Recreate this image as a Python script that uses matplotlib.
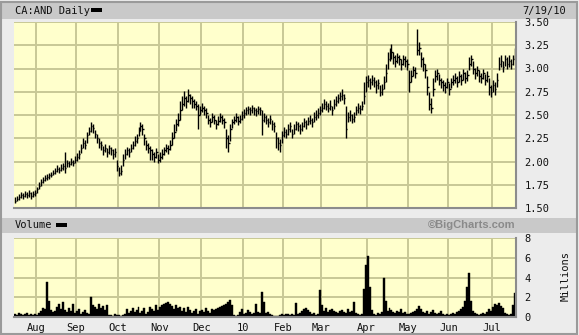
import numpy as np
import pandas as pd
import matplotlib
matplotlib.use("Agg")
import matplotlib.pyplot as plt
from matplotlib.patches import Rectangle

# daily bars, CA:AND, 2009-07-17 .. 2010-07-19 (TSX trading days)
close = [
    1.58, 1.60, 1.62, 1.64, 1.63, 1.65, 1.64, 1.66, 1.63, 1.65,
    1.66, 1.70, 1.74, 1.78, 1.80, 1.82, 1.83, 1.85, 1.86, 1.88,
    1.90, 1.92, 1.91, 1.93, 1.95, 1.93, 1.98, 1.97, 2.00, 1.98,
    2.02, 2.05, 2.08, 2.15, 2.20, 2.18, 2.28, 2.33, 2.38, 2.36,
    2.30, 2.25, 2.20, 2.18, 2.12, 2.15, 2.10, 2.14, 2.12, 2.08,
    2.10, 1.95, 1.88, 1.90, 2.02, 2.08, 2.12, 2.10, 2.15, 2.18,
    2.22, 2.25, 2.33, 2.38, 2.35, 2.25, 2.18, 2.15, 2.12, 2.08,
    2.05, 2.10, 2.02, 2.05, 2.08, 2.12, 2.15, 2.13, 2.18, 2.25,
    2.32, 2.40, 2.45, 2.55, 2.62, 2.68, 2.65, 2.72, 2.68, 2.65,
    2.62, 2.60, 2.50, 2.55, 2.58, 2.55, 2.52, 2.45, 2.42, 2.48,
    2.45, 2.40, 2.44, 2.48, 2.45, 2.42, 2.25, 2.20, 2.35, 2.42,
    2.45, 2.48, 2.44, 2.46, 2.50, 2.52, 2.55, 2.56, 2.55, 2.57,
    2.55, 2.54, 2.56, 2.55, 2.45, 2.48, 2.45, 2.42, 2.46, 2.40,
    2.38, 2.25, 2.20, 2.18, 2.28, 2.32, 2.30, 2.35, 2.38, 2.30,
    2.35, 2.40, 2.38, 2.35, 2.38, 2.42, 2.40, 2.44, 2.45, 2.42,
    2.48, 2.50, 2.52, 2.55, 2.58, 2.62, 2.60, 2.58, 2.60, 2.55,
    2.62, 2.65, 2.68, 2.70, 2.72, 2.68, 2.35, 2.48, 2.50, 2.46,
    2.48, 2.55, 2.58, 2.56, 2.60, 2.70, 2.85, 2.88, 2.85, 2.88,
    2.86, 2.82, 2.84, 2.75, 2.78, 2.85, 2.95, 3.10, 3.15, 3.18,
    3.12, 3.08, 3.12, 3.10, 3.05, 3.10, 3.08, 3.05, 2.85, 2.92,
    2.98, 2.95, 3.20, 3.22, 3.10, 3.05, 2.98, 2.80, 2.62, 2.58,
    2.78, 2.92, 2.95, 2.88, 2.85, 2.82, 2.80, 2.85, 2.78, 2.85,
    2.88, 2.90, 2.86, 2.92, 2.88, 2.95, 2.90, 2.93, 3.05, 3.10,
    3.00, 2.95, 2.98, 2.92, 2.90, 2.95, 2.88, 2.92, 2.80, 2.75,
    2.82, 2.78, 2.88, 3.05, 3.08, 3.02, 3.10, 3.05, 3.08, 3.05,
    3.10, 3.18,
]
high = [
    1.62, 1.63, 1.65, 1.67, 1.66, 1.68, 1.67, 1.69, 1.67, 1.68,
    1.69, 1.73, 1.78, 1.81, 1.83, 1.85, 1.87, 1.88, 1.89, 1.91,
    1.93, 1.96, 1.94, 1.97, 1.98, 2.10, 2.02, 2.01, 2.04, 2.02,
    2.06, 2.09, 2.12, 2.19, 2.25, 2.23, 2.32, 2.37, 2.42, 2.40,
    2.34, 2.30, 2.25, 2.22, 2.17, 2.19, 2.15, 2.18, 2.16, 2.13,
    2.14, 2.02, 1.94, 1.96, 2.08, 2.13, 2.16, 2.15, 2.19, 2.22,
    2.27, 2.30, 2.37, 2.42, 2.40, 2.30, 2.23, 2.20, 2.17, 2.13,
    2.10, 2.14, 2.08, 2.10, 2.13, 2.16, 2.19, 2.18, 2.23, 2.32,
    2.40, 2.46, 2.52, 2.65, 2.70, 2.76, 2.70, 2.78, 2.73, 2.70,
    2.67, 2.65, 2.62, 2.60, 2.63, 2.60, 2.57, 2.50, 2.47, 2.52,
    2.50, 2.45, 2.49, 2.52, 2.50, 2.47, 2.35, 2.28, 2.40, 2.46,
    2.49, 2.52, 2.49, 2.50, 2.54, 2.56, 2.59, 2.60, 2.59, 2.61,
    2.59, 2.58, 2.60, 2.59, 2.55, 2.52, 2.50, 2.47, 2.50, 2.45,
    2.42, 2.32, 2.26, 2.24, 2.33, 2.37, 2.35, 2.40, 2.42, 2.35,
    2.40, 2.44, 2.43, 2.40, 2.42, 2.47, 2.45, 2.48, 2.50, 2.47,
    2.53, 2.55, 2.57, 2.60, 2.63, 2.67, 2.65, 2.63, 2.66, 2.60,
    2.67, 2.70, 2.73, 2.75, 2.78, 2.73, 2.60, 2.53, 2.55, 2.51,
    2.53, 2.60, 2.63, 2.61, 2.65, 2.85, 2.92, 2.93, 2.90, 2.93,
    2.91, 2.88, 2.89, 2.82, 2.83, 2.92, 3.05, 3.18, 3.22, 3.26,
    3.18, 3.14, 3.17, 3.15, 3.10, 3.15, 3.13, 3.10, 2.98, 2.98,
    3.03, 3.02, 3.42, 3.28, 3.18, 3.12, 3.05, 2.92, 2.75, 2.68,
    2.90, 2.98, 3.00, 2.94, 2.90, 2.88, 2.85, 2.90, 2.84, 2.90,
    2.93, 2.95, 2.92, 2.97, 2.94, 3.00, 2.96, 2.98, 3.12, 3.15,
    3.08, 3.01, 3.03, 2.98, 2.95, 3.00, 2.94, 2.97, 2.90, 2.82,
    2.88, 2.85, 2.95, 3.12, 3.14, 3.08, 3.15, 3.12, 3.14, 3.10,
    3.15, 3.22,
]
low = [
    1.55, 1.57, 1.59, 1.61, 1.60, 1.62, 1.61, 1.62, 1.60, 1.62,
    1.63, 1.66, 1.70, 1.74, 1.77, 1.79, 1.80, 1.81, 1.83, 1.85,
    1.87, 1.89, 1.88, 1.90, 1.91, 1.88, 1.94, 1.94, 1.96, 1.95,
    1.98, 2.01, 2.03, 2.09, 2.14, 2.13, 2.20, 2.28, 2.32, 2.31,
    2.25, 2.20, 2.14, 2.12, 2.07, 2.10, 2.05, 2.08, 2.07, 2.03,
    2.05, 1.90, 1.84, 1.86, 1.95, 2.03, 2.07, 2.05, 2.10, 2.13,
    2.17, 2.20, 2.27, 2.33, 2.28, 2.18, 2.12, 2.09, 2.02, 2.02,
    2.00, 2.04, 1.98, 2.00, 2.03, 2.07, 2.10, 2.08, 2.12, 2.18,
    2.25, 2.33, 2.38, 2.45, 2.55, 2.60, 2.58, 2.64, 2.62, 2.58,
    2.57, 2.55, 2.35, 2.50, 2.53, 2.50, 2.47, 2.40, 2.37, 2.42,
    2.40, 2.35, 2.39, 2.43, 2.40, 2.36, 2.15, 2.10, 2.22, 2.36,
    2.40, 2.43, 2.39, 2.41, 2.45, 2.47, 2.50, 2.51, 2.50, 2.52,
    2.50, 2.49, 2.51, 2.50, 2.28, 2.42, 2.40, 2.37, 2.40, 2.34,
    2.32, 2.15, 2.12, 2.10, 2.20, 2.26, 2.25, 2.29, 2.32, 2.25,
    2.30, 2.34, 2.33, 2.30, 2.33, 2.37, 2.35, 2.39, 2.40, 2.37,
    2.43, 2.45, 2.47, 2.50, 2.53, 2.56, 2.55, 2.53, 2.55, 2.50,
    2.56, 2.60, 2.63, 2.65, 2.66, 2.62, 2.25, 2.42, 2.44, 2.41,
    2.43, 2.50, 2.52, 2.51, 2.55, 2.62, 2.75, 2.80, 2.78, 2.82,
    2.80, 2.74, 2.78, 2.70, 2.72, 2.78, 2.85, 3.00, 3.08, 3.10,
    3.05, 3.02, 3.06, 3.04, 2.98, 3.04, 3.02, 2.98, 2.75, 2.86,
    2.92, 2.90, 3.15, 3.15, 3.02, 2.97, 2.90, 2.72, 2.55, 2.52,
    2.70, 2.85, 2.88, 2.82, 2.79, 2.76, 2.74, 2.79, 2.72, 2.79,
    2.82, 2.84, 2.80, 2.86, 2.82, 2.88, 2.84, 2.87, 2.98, 3.03,
    2.94, 2.89, 2.92, 2.86, 2.84, 2.89, 2.82, 2.86, 2.72, 2.69,
    2.75, 2.72, 2.80, 2.98, 3.02, 2.96, 3.03, 3.00, 3.02, 3.00,
    3.04, 3.10,
]
# volume in millions of shares
volume = [
    0.3, 0.2, 0.4, 0.3, 0.2, 0.3, 0.4, 0.2, 0.3, 0.2,
    0.3, 0.2, 0.4, 0.6, 0.9, 0.8, 3.5, 1.6, 0.7, 0.5,
    0.6, 1.0, 1.3, 0.8, 1.5, 0.7, 0.5, 0.9, 0.6, 1.3,
    0.4, 0.6, 0.8, 0.3, 0.5, 0.7, 0.4, 0.3, 2.0, 1.2,
    1.0, 0.8, 1.3, 0.9, 1.1, 0.7, 1.2, 0.2, 0.2, 0.1,
    0.3, 0.2, 0.2, 0.1, 0.2, 0.3, 0.8, 0.4, 0.6, 0.9,
    0.5, 0.7, 1.0, 0.4, 0.6, 0.9, 0.3, 0.5, 1.0, 0.8,
    0.6, 1.2, 0.7, 1.0, 1.2, 1.3, 1.4, 1.5, 1.3, 1.1,
    0.8, 1.2, 0.9, 1.0, 0.6, 0.9, 0.5, 1.0, 0.7, 0.4,
    0.6, 0.8, 0.3, 0.6, 0.7, 0.5, 0.9, 0.6, 0.4, 0.8,
    0.7, 0.8, 0.9, 1.0, 1.1, 1.2, 1.3, 1.5, 1.7, 1.2,
    0.2, 0.1, 0.2, 0.5, 0.8, 0.3, 0.4, 0.7, 0.5, 0.3,
    0.4, 1.3, 0.5, 0.4, 2.5, 1.5, 0.4, 0.5, 0.3, 0.2,
    0.1, 0.1, 0.1, 0.2, 0.3, 0.2, 0.3, 0.3, 0.2, 0.3,
    0.2, 1.4, 0.3, 0.4, 0.6, 0.8, 0.9, 0.7, 0.5, 0.3,
    0.4, 0.2, 0.3, 2.7, 1.2, 0.6, 0.9, 0.5, 0.7, 0.8,
    0.6, 0.5, 0.4, 0.6, 0.7, 0.5, 0.4, 0.8, 0.5, 0.6,
    1.5, 0.4, 0.3, 0.2, 0.3, 2.8, 5.3, 6.2, 3.0, 0.7,
    0.3, 0.2, 0.4, 0.3, 0.5, 3.9, 1.6, 0.6, 0.9, 0.7,
    0.5, 0.4, 0.6, 0.5, 0.8, 0.4, 0.5, 0.3, 0.3, 0.4,
    0.5, 0.6, 0.8, 1.1, 0.8, 0.5, 0.4, 0.6, 0.3, 0.5,
    0.7, 0.4, 0.3, 0.4, 0.6, 0.3, 0.2, 0.3, 0.2, 0.3,
    0.4, 0.3, 0.5, 0.6, 0.8, 1.0, 1.6, 3.0, 4.5, 1.6,
    0.6, 0.4, 0.3, 0.2, 0.3, 0.4, 0.3, 0.5, 0.8, 0.6,
    1.0, 1.3, 1.2, 1.4, 1.1, 0.9, 0.4, 0.3, 0.2, 0.3,
    1.2, 2.4,
]

holidays = ["2009-08-03", "2009-09-07", "2009-10-12", "2009-12-25", "2009-12-28",
            "2010-01-01", "2010-02-15", "2010-04-02", "2010-05-24", "2010-07-01"]
price_ticks = [1.50, 1.75, 2.00, 2.25, 2.50, 2.75, 3.00, 3.25, 3.50]
vol_ticks = [0, 2, 4, 6, 8]

dates = pd.bdate_range("2009-07-17", "2010-07-19")
dates = dates[~dates.isin(pd.to_datetime(holidays))]
n = len(close)
x = np.arange(n)

# first trading day of each month -> grid lines + labels
month_pos, month_lab = [], []
for i in range(1, len(dates)):
    if dates[i].month != dates[i - 1].month:
        month_pos.append(i - 0.5)
        month_lab.append("10" if dates[i].month == 1 else dates[i].strftime("%b"))

W, H = 579, 335
fig = plt.figure(figsize=(W / 100, H / 100), dpi=100, facecolor="#ececec")
mono = "DejaVu Sans Mono"


def box(x0, y0, x1, y1):
    # pixel box (top-left origin) -> figure fraction rect
    return [x0 / W, 1 - y1 / H, (x1 - x0) / W, (y1 - y0) / H]


def band(x0, y0, x1, y1, color):
    l, b, w, h = box(x0, y0, x1, y1)
    fig.add_artist(Rectangle((l, b), w, h, transform=fig.transFigure,
                             facecolor=color, edgecolor="none", zorder=0))


# outer frame and header bands
band(2, 3, 577, 19, "#c9c9c9")
band(2, 218, 577, 233, "#c9c9c9")
fig.add_artist(Rectangle((0.5 / W, 1.5 / H), (W - 2.5) / W, (H - 3) / H, transform=fig.transFigure,
                         facecolor="none", edgecolor="#9a9a9a", lw=1.5, zorder=0))

fig.text(15 / W, 1 - 11 / H, "CA:AND Daily", family=mono, fontsize=7.5, va="center", color="#111111")
band(91, 8, 102, 12, "black")
fig.text(566 / W, 1 - 11 / H, "7/19/10", family=mono, fontsize=7.5, va="center", ha="right", color="#111111")
fig.text(15 / W, 1 - 225.5 / H, "Volume", family=mono, fontsize=7.5, va="center", color="#111111")
band(56, 223, 67, 227, "black")
fig.text(516 / W, 1 - 225.5 / H, "\u00a9BigCharts.com", family="Liberation Sans", fontweight="bold",
         fontsize=8, va="center", ha="right", color="#8a8a8a")
fig.text(566 / W, 1 - 276 / H, "Millions", family=mono, fontsize=7.5, va="center", ha="center",
         rotation=90, color="#111111")

grid_c = "#c8c896"
ax = fig.add_axes(box(14, 22, 516, 208), facecolor="#ffffcc")
av = fig.add_axes(box(14, 238, 516, 317), facecolor="#ffffcc")

for a in (ax, av):
    a.set_xlim(-0.5, n - 0.5)
    a.set_xticks(month_pos)
    a.grid(True, color=grid_c, lw=1.4)
    a.set_axisbelow(True)
    a.spines["left"].set_visible(False)
    a.spines["top"].set_visible(False)
    a.spines["right"].set_color("#8c8c8c")
    a.spines["bottom"].set_color("#8c8c8c")
    a.spines["right"].set_linewidth(1.5)
    a.spines["bottom"].set_linewidth(1.5)
    a.yaxis.tick_right()
    a.tick_params(length=0, labelsize=7.5, labelcolor="#111111", pad=6)
    for t in a.get_yticklabels() + a.get_xticklabels():
        t.set_family(mono)

# price HLC bars
ax.vlines(x, low, high, color="black", lw=1.0)
ax.hlines(close, x, x + 0.7, color="black", lw=1.0)
ax.set_ylim(1.5, 3.5)
ax.set_yticks(price_ticks)
ax.set_yticklabels([f"{v:.2f}" for v in price_ticks])
ax.set_xticklabels([])
for t in ax.get_yticklabels():
    t.set_family(mono)

# volume
av.bar(x, volume, width=1.0, color="black", edgecolor="black", lw=0.3)
av.set_ylim(0, 8)
av.set_yticks(vol_ticks)
av.set_yticklabels([str(v) for v in vol_ticks])
av.set_xticklabels(month_lab)
av.tick_params(axis="x", pad=4)
for t in av.get_yticklabels() + av.get_xticklabels():
    t.set_family(mono)

fig.savefig("out.png", dpi=100, facecolor=fig.get_facecolor())
